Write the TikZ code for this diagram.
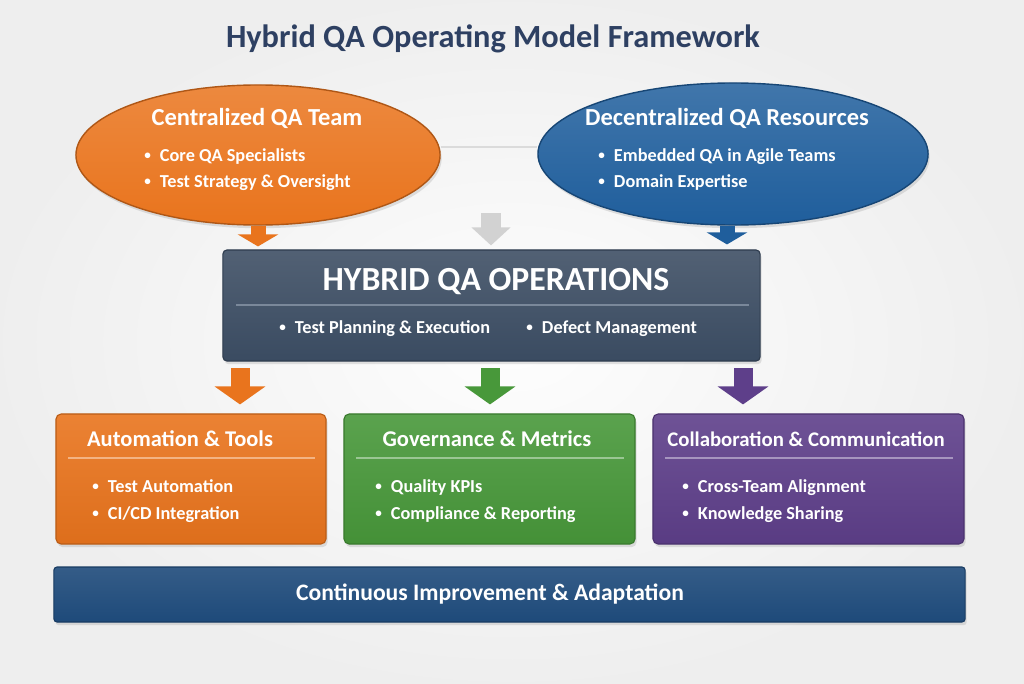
\documentclass[tikz,border=0pt]{standalone}
\usepackage{fontspec}
\usepackage{graphicx}
\setmainfont{Carlito}
\usetikzlibrary{arrows.meta,positioning,shapes.geometric,shadows}
\definecolor{titleblue}{HTML}{2E4062}
\definecolor{qaorange}{HTML}{E9741D}
\definecolor{qablue}{HTML}{1F5E9C}
\definecolor{opsslate}{HTML}{3A4B61}
\definecolor{qagreen}{HTML}{48983A}
\definecolor{qapurple}{HTML}{5E3F8A}
\definecolor{barblue}{HTML}{1E4A7A}
\definecolor{rulegray}{HTML}{7A889A}
\tikzset{
  main title/.style={font=\fontsize{23}{27}\selectfont\bfseries,text=titleblue,inner sep=0pt},
  group ellipse/.style={ellipse,draw=#1!75!black,line width=1pt,top color=#1!85!white,bottom color=#1,
    drop shadow={shadow xshift=0.04cm,shadow yshift=-0.08cm,opacity=0.22}},
  group title/.style={font=\fontsize{17.4}{20}\selectfont\bfseries,text=white,inner sep=0pt},
  item text/.style={font=\fontsize{13}{16}\selectfont\bfseries,text=white,inner sep=0pt},
  ops box/.style={rectangle,rounded corners=0.1cm,draw=opsslate!80!black,line width=0.8pt,
    top color=opsslate!88!white,bottom color=opsslate,
    drop shadow={shadow xshift=0.04cm,shadow yshift=-0.08cm,opacity=0.22}},
  ops title/.style={font=\fontsize{24}{28}\selectfont\bfseries,text=white,inner sep=0pt},
  ops rule/.style={draw=rulegray,line width=1.3pt},
  pillar box/.style={rectangle,rounded corners=0.13cm,draw=#1!80!black,line width=0.8pt,
    top color=#1!90!white,bottom color=#1!95!black,minimum height=3.25cm,
    drop shadow={shadow xshift=0.04cm,shadow yshift=-0.08cm,opacity=0.22}},
  pillar title/.style={font=\fontsize{16}{19}\selectfont\bfseries,text=white,inner sep=0pt},
  pillar rule/.style={draw=#1!55!white,line width=1.5pt},
  bar box/.style={rectangle,rounded corners=0.08cm,draw=barblue!80!black,line width=0.8pt,
    top color=barblue!90!white,bottom color=barblue,
    drop shadow={shadow xshift=0.04cm,shadow yshift=-0.08cm,opacity=0.22}},
  link line/.style={draw=gray!28,line width=1.5pt},
  upper arrow/.style={draw=#1,line width=0.375cm,-{Triangle[width=1.0cm,length=0.3cm]}},
  lower arrow/.style={draw=#1,line width=0.475cm,-{Triangle[width=1.25cm,length=0.45cm]},
    shorten <=0.175cm,shorten >=0.225cm},
}
\newcommand{\qabul}{\raisebox{0.1em}{\scalebox{0.72}{\textbullet}}\hspace{0.5em}}

\begin{document}
\begin{tikzpicture}[x=0.025cm,y=-0.025cm]
  \useasboundingbox (0,0) rectangle (1024,683);
  \shade[inner color=gray!1,outer color=gray!13] (0,0) rectangle (1024,683);

  \node[main title,anchor=base] (maintitle) at (493,48) {Hybrid QA Operating Model Framework};

  % the two resource groups
  \node[group ellipse=qaorange,minimum width=9.1cm,minimum height=3.5cm] (centr) at (258,155) {};
  \node[group ellipse=qablue,minimum width=9.75cm,minimum height=3.55cm] (decentr) at (733,154) {};
  \draw[link line] ([yshift=0.2cm]centr.east) -- ([yshift=0.2cm]centr.east -| decentr.west);

  \node[group title,anchor=base] (centrhead) at (257,125) {Centralized QA Team};
  \node[item text,anchor=base west] (centra) at (144,161) {\qabul Core QA Specialists};
  \node[item text,anchor=base west] (centrb) at (144,187) {\qabul Test Strategy \& Oversight};

  \node[group title,anchor=base] (decentrhead) at (727,125) {Decentralized QA Resources};
  \node[item text,anchor=base west] (decentra) at (598,161) {\qabul Embedded QA in Agile Teams};
  \node[item text,anchor=base west] (decentrb) at (598,187) {\qabul Domain Expertise};

  % operations block
  \node[ops box,minimum width=13.425cm,minimum height=2.775cm] (ops) at (491.5,305.5) {};
  \node[ops title,anchor=base] (opshead) at (496,290) {HYBRID QA OPERATIONS};
  \draw[ops rule] (236,305) -- (749,305);
  \node[item text,anchor=base west] (opsa) at (279,333) {\qabul Test Planning \& Execution};
  \node[item text,anchor=base west] (opsb) at (526,333) {\qabul Defect Management};

  \coordinate (midtop) at (491,213);
  \draw[upper arrow=qaorange,shorten >=0.075cm] (centr.south) -- (centr.south |- ops.north);
  \draw[upper arrow=gray!35,line width=0.5cm,-{Triangle[width=0.95cm,length=0.45cm]},shorten >=0.1cm]
    (midtop) -- (midtop |- ops.north);
  \draw[upper arrow=qablue,shorten >=0.125cm] ([xshift=-0.15cm]decentr.south) -- ([xshift=-0.15cm]decentr.south |- ops.north);

  % pillars
  \node[pillar box=qaorange,minimum width=6.75cm] (autobox) at (191,479) {};
  \node[pillar box=qagreen,minimum width=7.275cm] (govbox) at (489.5,479) {};
  \node[pillar box=qapurple,minimum width=7.775cm] (collabbox) at (808.5,479) {};

  \coordinate (opsl) at (240,361);
  \coordinate (opsm) at (490,361);
  \coordinate (opsr) at (743,361);
  \draw[lower arrow=qaorange] (opsl) -- (opsl |- autobox.north);
  \draw[lower arrow=qagreen] (opsm) -- (opsm |- govbox.north);
  \draw[lower arrow=qapurple] (opsr) -- (opsr |- collabbox.north);

  \node[pillar title,anchor=base] (autohead) at (180,446) {Automation \& Tools};
  \draw[pillar rule=qaorange] (68,458) -- (315,458);
  \node[item text,anchor=base west] (autoa) at (92,492) {\qabul Test Automation};
  \node[item text,anchor=base west] (autob) at (92,519) {\qabul CI/CD Integration};

  \node[pillar title,anchor=base] (govhead) at (487,446) {Governance \& Metrics};
  \draw[pillar rule=qagreen] (356,458) -- (624,458);
  \node[item text,anchor=base west] (gova) at (375,492) {\qabul Quality KPIs};
  \node[item text,anchor=base west] (govb) at (375,519) {\qabul Compliance \& Reporting};

  \node[pillar title,anchor=base,font=\fontsize{14.8}{18}\selectfont\bfseries] (collabhead) at (806,446) {Collaboration \& Communication};
  \draw[pillar rule=qapurple] (665,458) -- (953,458);
  \node[item text,anchor=base west] (collaba) at (682,492) {\qabul Cross-Team Alignment};
  \node[item text,anchor=base west] (collabb) at (682,519) {\qabul Knowledge Sharing};

  % improvement bar
  \node[bar box,minimum width=22.775cm,minimum height=1.375cm] (improve) at (509.5,594.5) {};
  \node[pillar title,anchor=base,font=\fontsize{16.8}{20}\selectfont\bfseries] (improvetext) at (490,600) {Continuous Improvement \& Adaptation};
\end{tikzpicture}
\end{document}
